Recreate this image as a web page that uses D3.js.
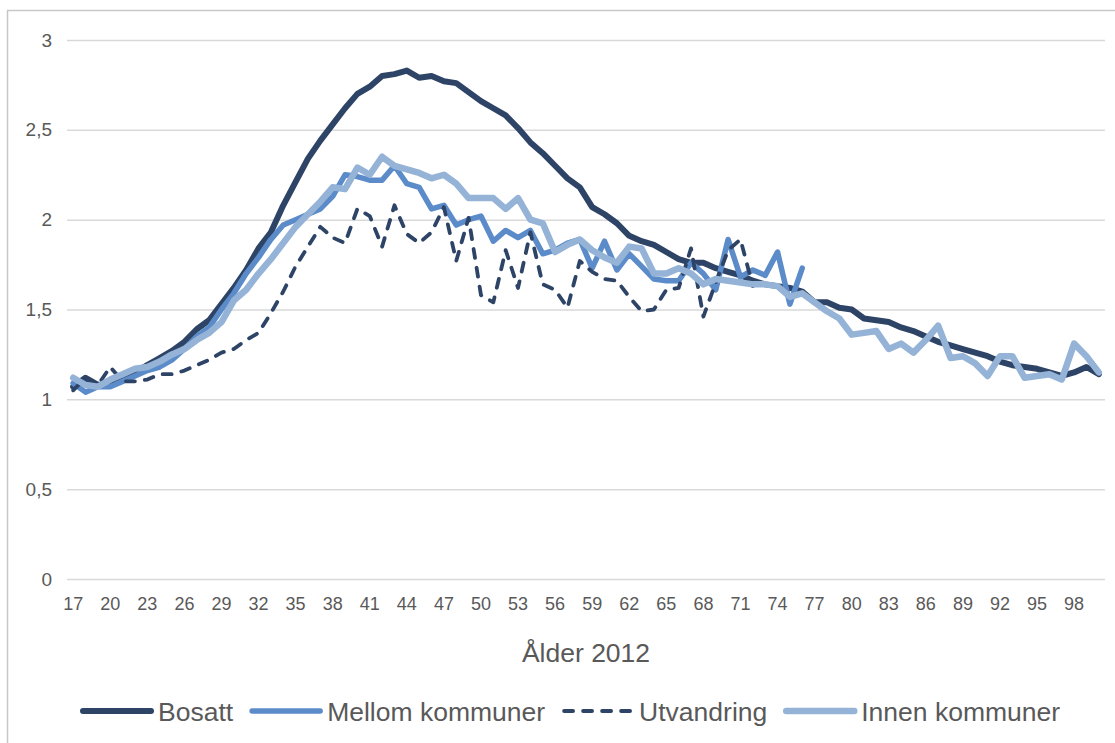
<!DOCTYPE html>
<html>
<head>
<meta charset="utf-8">
<script src="https://cdn.jsdelivr.net/npm/d3@7"></script>
<style>
  body { margin: 0; background: #fff; }
  svg { display: block; font-family: "Liberation Sans", Arial, sans-serif; }
</style>
</head>
<body>
<svg id="chart" width="1115" height="743"></svg>
<script>
// ==================== DATA ====================
const ages = d3.range(17, 101);
const tickAges = [17, 20, 23, 26, 29, 32, 35, 38, 41, 44, 47, 50, 53, 56, 59, 62, 65, 68, 71, 74, 77, 80, 83, 86, 89, 92, 95, 98];
const yTicks = [0, 0.5, 1, 1.5, 2, 2.5, 3];
const seriesNames = ['Bosatt', 'Mellom kommuner', 'Utvandring', 'Innen kommuner'];

// ages 17-100
const bosatt = [
  1.07, 1.12, 1.08, 1.09, 1.11, 1.15, 1.19, 1.23, 1.27, 1.32,
  1.39, 1.44, 1.53, 1.62, 1.72, 1.84, 1.93, 2.08, 2.21, 2.34,
  2.44, 2.53, 2.62, 2.70, 2.74, 2.80, 2.81, 2.83, 2.79, 2.80,
  2.77, 2.76, 2.71, 2.66, 2.62, 2.58, 2.51, 2.43, 2.37, 2.30,
  2.23, 2.18, 2.07, 2.03, 1.98, 1.91, 1.88, 1.86, 1.82, 1.78,
  1.76, 1.76, 1.73, 1.71, 1.69, 1.66, 1.64, 1.63, 1.62, 1.60,
  1.54, 1.54, 1.51, 1.50, 1.45, 1.44, 1.43, 1.40, 1.38, 1.35,
  1.32, 1.30, 1.28, 1.26, 1.24, 1.21, 1.19, 1.18, 1.17, 1.15,
  1.13, 1.15, 1.18, 1.14
];
// ages 17-76
const mellom = [
  1.09, 1.04, 1.07, 1.07, 1.10, 1.13, 1.16, 1.18, 1.22, 1.28,
  1.35, 1.40, 1.50, 1.59, 1.70, 1.79, 1.89, 1.97, 2.00, 2.03,
  2.06, 2.13, 2.25, 2.24, 2.22, 2.22, 2.30, 2.20, 2.18, 2.06,
  2.08, 1.97, 2.00, 2.02, 1.88, 1.94, 1.90, 1.94, 1.81, 1.83,
  1.87, 1.89, 1.73, 1.88, 1.72, 1.81, 1.74, 1.67, 1.66, 1.66,
  1.76, 1.70, 1.61, 1.89, 1.68, 1.72, 1.69, 1.82, 1.53, 1.73
];
// ages 17-72
const utvandring = [
  1.05, 1.12, 1.08, 1.18, 1.10, 1.10, 1.11, 1.14, 1.14, 1.16,
  1.19, 1.22, 1.26, 1.28, 1.33, 1.37, 1.48, 1.60, 1.74, 1.85,
  1.96, 1.90, 1.87, 2.06, 2.02, 1.85, 2.08, 1.92, 1.87, 1.93,
  2.07, 1.77, 2.01, 1.58, 1.54, 1.83, 1.62, 1.93, 1.64, 1.61,
  1.51, 1.77, 1.71, 1.67, 1.66, 1.57, 1.49, 1.50, 1.61, 1.62,
  1.84, 1.46, 1.65, 1.83, 1.89, 1.63
];
// ages 17-100
const innen = [
  1.12, 1.08, 1.07, 1.11, 1.14, 1.17, 1.18, 1.21, 1.25, 1.28,
  1.33, 1.37, 1.43, 1.55, 1.61, 1.70, 1.78, 1.87, 1.96, 2.03,
  2.10, 2.18, 2.17, 2.29, 2.25, 2.35, 2.30, 2.28, 2.26, 2.23,
  2.25, 2.20, 2.12, 2.12, 2.12, 2.06, 2.12, 2.00, 1.98, 1.82,
  1.86, 1.89, 1.83, 1.79, 1.76, 1.85, 1.84, 1.70, 1.70, 1.73,
  1.70, 1.64, 1.67, 1.66, 1.65, 1.64, 1.64, 1.63, 1.57, 1.59,
  1.54, 1.49, 1.45, 1.36, 1.37, 1.38, 1.28, 1.31, 1.26, 1.33,
  1.41, 1.23, 1.24, 1.20, 1.13, 1.24, 1.24, 1.12, 1.13, 1.14,
  1.11, 1.31, 1.24, 1.15
];

// ==================== STYLE ====================
const styles = [
  { values: bosatt, color: '#2e4467', width: 6, dash: null },
  { values: mellom, color: '#5b8bc9', width: 5.5, dash: null },
  { values: utvandring, color: '#2e4467', width: 3.8, dash: '9,10' },
  { values: innen, color: '#94b3d7', width: 6.5, dash: null },
];
const textColor = '#595959';
const gridColor = '#d9d9d9';
const font = '"Liberation Sans", Arial, sans-serif';

// ==================== CHART ====================
const svg = d3.select('#chart');
const plot = { left: 67, right: 1105, top: 40, bottom: 579 };

// outer frame of the chart area
svg.append('rect')
  .attr('x', 7.5).attr('y', 10.5)
  .attr('width', 1200).attr('height', 800)
  .attr('fill', '#fff')
  .attr('stroke', '#c8c8c8')
  .attr('stroke-width', 1.5);

const x = d3.scaleBand().domain(ages).range([plot.left, plot.right]);
const y = d3.scaleLinear().domain([0, 3]).range([plot.bottom, plot.top]);
const fmt = (v) => String(v).replace('.', ',');

// gridlines + y labels
const yAxis = d3.axisLeft(y)
  .tickValues(yTicks)
  .tickSize(-(plot.right - plot.left))
  .tickPadding(15)
  .tickFormat(fmt);

const gy = svg.append('g')
  .attr('transform', `translate(${plot.left},0)`)
  .call(yAxis);
gy.select('.domain').remove();
gy.selectAll('.tick line').attr('stroke', gridColor).attr('stroke-width', 1.5);
gy.selectAll('.tick text')
  .attr('fill', textColor)
  .attr('font-size', '19px')
  .attr('font-family', font);

// x labels
const xAxis = d3.axisBottom(x)
  .tickValues(tickAges)
  .tickSize(0)
  .tickPadding(18);

const gx = svg.append('g')
  .attr('transform', `translate(0,${plot.bottom})`)
  .call(xAxis);
gx.select('.domain').remove();
gx.selectAll('.tick text')
  .attr('fill', textColor)
  .attr('font-size', '18px')
  .attr('font-family', font);

// axis title
svg.append('text')
  .attr('x', (plot.left + plot.right) / 2)
  .attr('y', 662)
  .attr('text-anchor', 'middle')
  .attr('fill', textColor)
  .attr('font-size', '26.5px')
  .text('Ålder 2012');

// lines
const line = d3.line()
  .x((d) => x(d.age) + x.bandwidth() / 2)
  .y((d) => y(d.value));

styles.forEach((s) => {
  const pts = s.values.map((v, i) => ({ age: ages[i], value: v }));
  svg.append('path')
    .datum(pts)
    .attr('d', line)
    .attr('fill', 'none')
    .attr('stroke', s.color)
    .attr('stroke-width', s.width)
    .attr('stroke-linejoin', 'round')
    .attr('stroke-linecap', 'round')
    .attr('stroke-dasharray', s.dash);
});

// legend
const legend = svg.append('g').attr('transform', 'translate(0,711)');
let lx = 83;
styles.forEach((s, i) => {
  legend.append('line')
    .attr('x1', lx).attr('x2', lx + 68)
    .attr('y1', 0).attr('y2', 0)
    .attr('stroke', s.color)
    .attr('stroke-width', s.width)
    .attr('stroke-linecap', 'round')
    .attr('stroke-dasharray', s.dash);
  const t = legend.append('text')
    .attr('x', lx + 75)
    .attr('y', 9.5)
    .attr('fill', textColor)
    .attr('font-size', '26.5px')
    .text(seriesNames[i]);
  lx += 75 + t.node().getComputedTextLength() + 19;
});
</script>
</body>
</html>
